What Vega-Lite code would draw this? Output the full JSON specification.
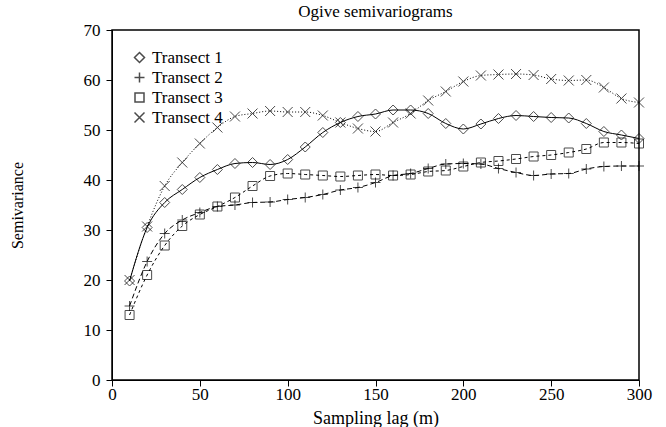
{
  "$schema": "https://vega.github.io/schema/vega-lite/v6.json",
  "width": 527,
  "height": 350,
  "autosize": {"type": "none"},
  "padding": {"left": 112, "top": 30, "right": 27, "bottom": 47},
  "background": "white",
  "title": {"text": "Ogive semivariograms", "font": "Liberation Serif", "fontSize": 17, "fontWeight": "normal", "color": "black", "offset": 0},
  "data": {"values": [
    {"lag": 10, "sv": 19.8, "transect": "Transect 1"}, {"lag": 20, "sv": 30.5, "transect": "Transect 1"}, {"lag": 30, "sv": 35.5, "transect": "Transect 1"}, {"lag": 40, "sv": 38.1, "transect": "Transect 1"}, {"lag": 50, "sv": 40.5, "transect": "Transect 1"}, {"lag": 60, "sv": 42.1, "transect": "Transect 1"}, {"lag": 70, "sv": 43.3, "transect": "Transect 1"}, {"lag": 80, "sv": 43.5, "transect": "Transect 1"}, {"lag": 90, "sv": 43.1, "transect": "Transect 1"}, {"lag": 100, "sv": 44.1, "transect": "Transect 1"}, {"lag": 110, "sv": 46.6, "transect": "Transect 1"}, {"lag": 120, "sv": 49.5, "transect": "Transect 1"}, {"lag": 130, "sv": 51.5, "transect": "Transect 1"}, {"lag": 140, "sv": 52.7, "transect": "Transect 1"}, {"lag": 150, "sv": 53.2, "transect": "Transect 1"}, {"lag": 160, "sv": 54.0, "transect": "Transect 1"}, {"lag": 170, "sv": 54.0, "transect": "Transect 1"}, {"lag": 180, "sv": 53.3, "transect": "Transect 1"}, {"lag": 190, "sv": 51.3, "transect": "Transect 1"}, {"lag": 200, "sv": 50.2, "transect": "Transect 1"}, {"lag": 210, "sv": 51.2, "transect": "Transect 1"}, {"lag": 220, "sv": 52.3, "transect": "Transect 1"}, {"lag": 230, "sv": 52.9, "transect": "Transect 1"}, {"lag": 240, "sv": 52.7, "transect": "Transect 1"}, {"lag": 250, "sv": 52.5, "transect": "Transect 1"}, {"lag": 260, "sv": 52.4, "transect": "Transect 1"}, {"lag": 270, "sv": 51.3, "transect": "Transect 1"}, {"lag": 280, "sv": 49.7, "transect": "Transect 1"}, {"lag": 290, "sv": 49.0, "transect": "Transect 1"}, {"lag": 300, "sv": 48.3, "transect": "Transect 1"},
    {"lag": 10, "sv": 14.8, "transect": "Transect 2"}, {"lag": 20, "sv": 23.7, "transect": "Transect 2"}, {"lag": 30, "sv": 29.3, "transect": "Transect 2"}, {"lag": 40, "sv": 32.0, "transect": "Transect 2"}, {"lag": 50, "sv": 33.5, "transect": "Transect 2"}, {"lag": 60, "sv": 34.7, "transect": "Transect 2"}, {"lag": 70, "sv": 35.0, "transect": "Transect 2"}, {"lag": 80, "sv": 35.5, "transect": "Transect 2"}, {"lag": 90, "sv": 35.6, "transect": "Transect 2"}, {"lag": 100, "sv": 36.1, "transect": "Transect 2"}, {"lag": 110, "sv": 36.5, "transect": "Transect 2"}, {"lag": 120, "sv": 37.1, "transect": "Transect 2"}, {"lag": 130, "sv": 38.0, "transect": "Transect 2"}, {"lag": 140, "sv": 38.5, "transect": "Transect 2"}, {"lag": 150, "sv": 39.5, "transect": "Transect 2"}, {"lag": 160, "sv": 40.9, "transect": "Transect 2"}, {"lag": 170, "sv": 41.3, "transect": "Transect 2"}, {"lag": 180, "sv": 42.3, "transect": "Transect 2"}, {"lag": 190, "sv": 43.2, "transect": "Transect 2"}, {"lag": 200, "sv": 43.3, "transect": "Transect 2"}, {"lag": 210, "sv": 43.2, "transect": "Transect 2"}, {"lag": 220, "sv": 42.3, "transect": "Transect 2"}, {"lag": 230, "sv": 41.5, "transect": "Transect 2"}, {"lag": 240, "sv": 40.9, "transect": "Transect 2"}, {"lag": 250, "sv": 41.2, "transect": "Transect 2"}, {"lag": 260, "sv": 41.3, "transect": "Transect 2"}, {"lag": 270, "sv": 42.2, "transect": "Transect 2"}, {"lag": 280, "sv": 42.7, "transect": "Transect 2"}, {"lag": 290, "sv": 42.8, "transect": "Transect 2"}, {"lag": 300, "sv": 42.8, "transect": "Transect 2"},
    {"lag": 10, "sv": 13.0, "transect": "Transect 3"}, {"lag": 20, "sv": 21.0, "transect": "Transect 3"}, {"lag": 30, "sv": 26.9, "transect": "Transect 3"}, {"lag": 40, "sv": 30.8, "transect": "Transect 3"}, {"lag": 50, "sv": 33.1, "transect": "Transect 3"}, {"lag": 60, "sv": 34.7, "transect": "Transect 3"}, {"lag": 70, "sv": 36.5, "transect": "Transect 3"}, {"lag": 80, "sv": 38.8, "transect": "Transect 3"}, {"lag": 90, "sv": 40.8, "transect": "Transect 3"}, {"lag": 100, "sv": 41.3, "transect": "Transect 3"}, {"lag": 110, "sv": 41.1, "transect": "Transect 3"}, {"lag": 120, "sv": 40.9, "transect": "Transect 3"}, {"lag": 130, "sv": 40.7, "transect": "Transect 3"}, {"lag": 140, "sv": 40.9, "transect": "Transect 3"}, {"lag": 150, "sv": 41.1, "transect": "Transect 3"}, {"lag": 160, "sv": 40.9, "transect": "Transect 3"}, {"lag": 170, "sv": 41.1, "transect": "Transect 3"}, {"lag": 180, "sv": 41.7, "transect": "Transect 3"}, {"lag": 190, "sv": 41.9, "transect": "Transect 3"}, {"lag": 200, "sv": 42.7, "transect": "Transect 3"}, {"lag": 210, "sv": 43.5, "transect": "Transect 3"}, {"lag": 220, "sv": 43.8, "transect": "Transect 3"}, {"lag": 230, "sv": 44.2, "transect": "Transect 3"}, {"lag": 240, "sv": 44.7, "transect": "Transect 3"}, {"lag": 250, "sv": 45.0, "transect": "Transect 3"}, {"lag": 260, "sv": 45.5, "transect": "Transect 3"}, {"lag": 270, "sv": 46.2, "transect": "Transect 3"}, {"lag": 280, "sv": 47.5, "transect": "Transect 3"}, {"lag": 290, "sv": 47.5, "transect": "Transect 3"}, {"lag": 300, "sv": 47.3, "transect": "Transect 3"},
    {"lag": 10, "sv": 20.0, "transect": "Transect 4"}, {"lag": 20, "sv": 30.7, "transect": "Transect 4"}, {"lag": 30, "sv": 38.8, "transect": "Transect 4"}, {"lag": 40, "sv": 43.5, "transect": "Transect 4"}, {"lag": 50, "sv": 47.3, "transect": "Transect 4"}, {"lag": 60, "sv": 50.5, "transect": "Transect 4"}, {"lag": 70, "sv": 52.7, "transect": "Transect 4"}, {"lag": 80, "sv": 53.3, "transect": "Transect 4"}, {"lag": 90, "sv": 53.8, "transect": "Transect 4"}, {"lag": 100, "sv": 53.6, "transect": "Transect 4"}, {"lag": 110, "sv": 53.6, "transect": "Transect 4"}, {"lag": 120, "sv": 52.9, "transect": "Transect 4"}, {"lag": 130, "sv": 51.5, "transect": "Transect 4"}, {"lag": 140, "sv": 50.3, "transect": "Transect 4"}, {"lag": 150, "sv": 49.7, "transect": "Transect 4"}, {"lag": 160, "sv": 51.5, "transect": "Transect 4"}, {"lag": 170, "sv": 53.3, "transect": "Transect 4"}, {"lag": 180, "sv": 55.9, "transect": "Transect 4"}, {"lag": 190, "sv": 57.7, "transect": "Transect 4"}, {"lag": 200, "sv": 59.7, "transect": "Transect 4"}, {"lag": 210, "sv": 60.9, "transect": "Transect 4"}, {"lag": 220, "sv": 61.1, "transect": "Transect 4"}, {"lag": 230, "sv": 61.2, "transect": "Transect 4"}, {"lag": 240, "sv": 61.0, "transect": "Transect 4"}, {"lag": 250, "sv": 60.2, "transect": "Transect 4"}, {"lag": 260, "sv": 59.9, "transect": "Transect 4"}, {"lag": 270, "sv": 60.0, "transect": "Transect 4"}, {"lag": 280, "sv": 58.5, "transect": "Transect 4"}, {"lag": 290, "sv": 56.3, "transect": "Transect 4"}, {"lag": 300, "sv": 55.5, "transect": "Transect 4"}
  ]},
  "encoding": {
    "x": {"field": "lag", "type": "quantitative", "scale": {"domain": [0, 300], "nice": false},
          "axis": {"values": [0, 50, 100, 150, 200, 250, 300], "title": "Sampling lag (m)", "titleFontSize": 18, "labelPadding": 0, "titlePadding": 7}},
    "y": {"field": "sv", "type": "quantitative", "scale": {"domain": [0, 70], "nice": false},
          "axis": {"values": [0, 10, 20, 30, 40, 50, 60, 70], "title": "Semivariance", "titleFontSize": 16, "labelPadding": 6, "titlePadding": 58}}
  },
  "layer": [
    {
      "transform": [{"filter": "datum.transect === 'Transect 1'"}],
      "mark": {"type": "line", "interpolate": "monotone", "color": "black", "strokeWidth": 1}
    },
    {
      "transform": [{"filter": "datum.transect === 'Transect 2'"}],
      "mark": {"type": "line", "interpolate": "monotone", "color": "black", "strokeWidth": 1, "strokeDash": [5, 3]}
    },
    {
      "transform": [{"filter": "datum.transect === 'Transect 3'"}],
      "mark": {"type": "line", "interpolate": "monotone", "color": "black", "strokeWidth": 1, "strokeDash": [3, 3]}
    },
    {
      "transform": [{"filter": "datum.transect === 'Transect 4'"}],
      "mark": {"type": "line", "interpolate": "monotone", "color": "black", "strokeWidth": 1, "strokeDash": [1, 2]}
    },
    {
      "mark": {"type": "point", "filled": false, "stroke": "black", "strokeWidth": 1, "size": 100},
      "encoding": {
        "shape": {"field": "transect", "type": "nominal",
                  "scale": {"domain": ["Transect 1", "Transect 2", "Transect 3", "Transect 4"],
                            "range": ["M0,-1L1,0L0,1L-1,0Z", "M-1,0L1,0M0,-1L0,1", "M-0.9,-0.9L0.9,-0.9L0.9,0.9L-0.9,0.9Z", "M-1,-1L1,1M-1,1L1,-1"]},
                  "legend": {
                    "orient": "top-left", "offset": 19, "title": null,
                    "labelFont": "Liberation Serif", "labelFontSize": 17, "labelColor": "black",
                    "symbolStrokeColor": "black"
                  }}
      }
    }
  ],
  "config": {
    "view": {"stroke": "black", "strokeWidth": 1.5},
    "axis": {"domainColor": "black", "gridOpacity": 0, "tickSize": 6, "tickColor": "black", "labelFlush": false,
             "labelFont": "Liberation Serif", "labelFontSize": 17, "labelColor": "black",
             "titleFont": "Liberation Serif", "titleFontWeight": "normal", "titleColor": "black"}
  }
}
